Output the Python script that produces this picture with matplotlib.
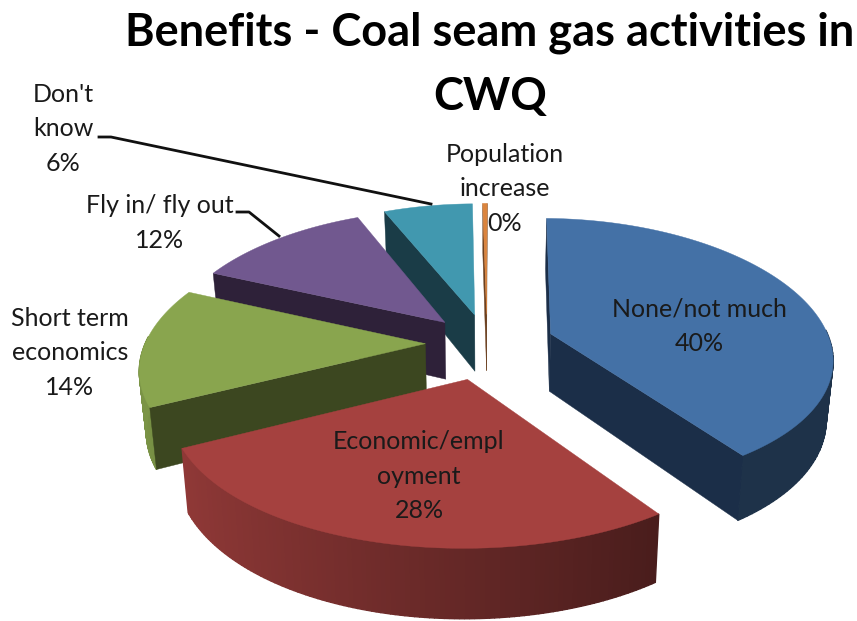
import numpy as np
import matplotlib
matplotlib.use("Agg")
import matplotlib.pyplot as plt
from matplotlib.patches import Polygon

# --- Data ---
categories = ["None/not much", "Economic/empl\noyment", "Short term\neconomics",
              "Fly in/ fly out", "Don't\nknow", "Population\nincrease"]
values = [40.0, 27.3, 14.0, 12.0, 6.1, 0.3]
pct_labels = ["40%", "28%", "14%", "12%", "6%", "0%"]
top_colors = ["#4471a6", "#a5413f", "#89a54e", "#71588f", "#4198af", "#db843d"]
side_colors = ["#1b2e48", "#4a1b18", "#3c4720", "#2e2139", "#1a3c47", "#6b4020"]
label_pos = [(699, 326), (419, 476), (70, 353), (160, 223), (63, 129), (505, 189)]

# --- Projection of the tilted pie (pixel space) ---
CX, CY = 487, 343
RX, RY = 280, 134
PERSP_X = 0.165
PERSP_Y = 0.14
DEPTH = 58
START = np.radians(1.2)
explode = [0.24, 0.27, 0.22, 0.22, 0.22, 0.22]


def project(x, y, z):
    sx = 1 / (1 + PERSP_X * y)
    sy = 1 / (1 + PERSP_Y * y)
    return CX + RX * x * sx * (1 - 0.02 * z), CY - RY * y * sy + DEPTH * z * sy


def rim_shade(theta):
    # rim gets darker going round to the right
    return np.clip(0.87 - 0.289 * (np.sin(theta) + 0.9), 0.44, 1.0)


def draw_slice(ax, start, end, top, side, e):
    mid = (start + end) / 2
    ox, oy = e * np.sin(mid), e * np.cos(mid)
    th = np.linspace(start, end, 120)
    rim_x, rim_y = ox + np.sin(th), oy + np.cos(th)

    # outer rim in small strips so it can shade, back part is hidden
    rgb = np.array(matplotlib.colors.to_rgb(top))
    for i in range(len(th) - 1):
        if np.cos(th[i]) > 0.05:
            continue
        strip = [project(rim_x[i], rim_y[i], 0), project(rim_x[i + 1], rim_y[i + 1], 0),
                 project(rim_x[i + 1], rim_y[i + 1], 1), project(rim_x[i], rim_y[i], 1)]
        c = rgb * rim_shade(th[i])
        ax.add_patch(Polygon(strip, closed=True, fc=c, ec=c, lw=1))

    # radial faces, only the ones turned to the viewer
    for t, visible in ((start, np.sin(start) < 0 or start < 0.1), (end, np.sin(end) > 0)):
        if not visible:
            continue
        ex, ey = ox + np.sin(t), oy + np.cos(t)
        face = [project(ox, oy, 0), project(ex, ey, 0), project(ex, ey, 1), project(ox, oy, 1)]
        ax.add_patch(Polygon(face, closed=True, fc=side, ec=side, lw=0.3))

    # top
    pts = [project(ox, oy, 0)] + [project(a, b, 0) for a, b in zip(rim_x, rim_y)]
    ax.add_patch(Polygon(pts, closed=True, fc=top, ec=top, lw=0.3))


fig = plt.figure(figsize=(8.57, 6.21), dpi=100)
ax = fig.add_axes([0, 0, 1, 1])
ax.set_xlim(0, 857)
ax.set_ylim(621, 0)
ax.axis("off")

edges = START + np.radians(np.concatenate([[0], np.cumsum(values)]) * 3.6)
# back to front
for i in [4, 5, 3, 2, 0, 1]:
    draw_slice(ax, edges[i], edges[i + 1], top_colors[i], side_colors[i], explode[i])

# --- Leader lines ---
ax.plot([99, 111, 431], [137, 137, 204], color="#111111", lw=2)
ax.plot([237, 249, 279], [212, 212, 236], color="#111111", lw=2)

# --- Text ---
font = "Lato"
ax.text(490, 33, "Benefits - Coal seam gas activities in", ha="center", va="center",
        fontsize=32.5, fontweight="bold", family=font, color="black")
ax.text(490, 97, "CWQ", ha="center", va="center",
        fontsize=32.5, fontweight="bold", family=font, color="black")
for name, pct, pos in zip(categories, pct_labels, label_pos):
    ax.text(pos[0], pos[1], name + "\n" + pct, ha="center", va="center", fontsize=18,
            family=font, color="#1a1a1a", linespacing=1.6)

fig.savefig("out.png", dpi=100)
